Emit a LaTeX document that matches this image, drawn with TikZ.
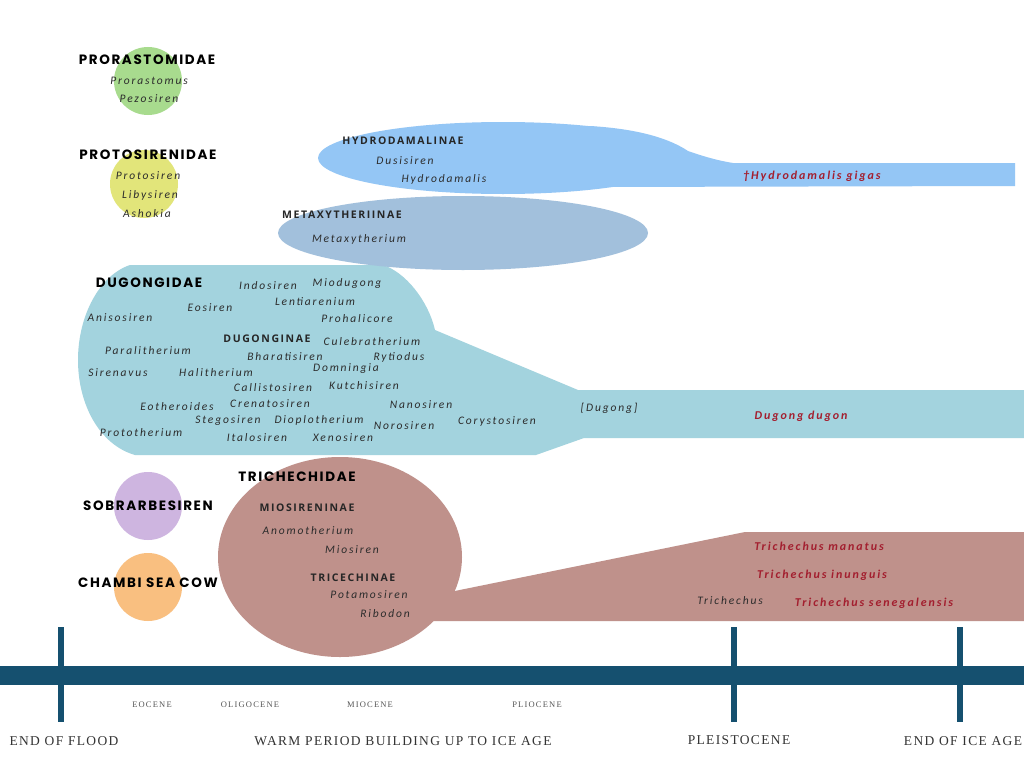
\documentclass[tikz,border=0pt]{standalone}
\usepackage{fontspec}
\newfontfamily\headfont{Poppins}[LetterSpace=12]
\newfontfamily\subfont{Open Sans}[LetterSpace=15]
\newfontfamily\genfont{Carlito}[LetterSpace=16]
\newfontfamily\timefont{Liberation Serif}[LetterSpace=10]
\newfontfamily\erafont{Liberation Serif}[LetterSpace=14]
\definecolor{cgreen}{HTML}{A8DB8E}
\definecolor{cyellow}{HTML}{E2E57A}
\definecolor{cpurple}{HTML}{CEB5E0}
\definecolor{corange}{HTML}{F9BF80}
\definecolor{clblue}{HTML}{94C6F5}
\definecolor{csteel}{HTML}{A2C0DC}
\definecolor{cteal}{HTML}{A3D3DE}
\definecolor{crose}{HTML}{BF918B}
\definecolor{cline}{HTML}{15506F}
\definecolor{cred}{HTML}{A31F2F}
\definecolor{cgray}{HTML}{2C2C2C}
\definecolor{cera}{HTML}{555555}
\begin{document}
\begin{tikzpicture}[x=1pt,y=-1pt,
  fam/.style={font=\headfont\bfseries\fontsize{13.5}{15}\selectfont, text=black, inner sep=0pt},
  sub/.style={font=\subfont\bfseries\fontsize{10.5}{12}\selectfont, text=black!85, inner sep=0pt},
  gen/.style={font=\genfont\itshape\fontsize{11.5}{13}\selectfont, text=cgray, inner sep=0pt},
  spc/.style={font=\genfont\bfseries\itshape\fontsize{12}{14}\selectfont, text=cred, inner sep=0pt},
  era/.style={font=\erafont\fontsize{8.5}{10}\selectfont, text=cera, inner sep=0pt},
  period/.style={font=\timefont\fontsize{13.5}{15}\selectfont, text=black!80, inner sep=0pt}
]
\useasboundingbox[fill=white] (0,0) rectangle (1024,768);

% ---------- shapes ----------
\fill[cgreen]  (148,81)  circle[radius=34];
\fill[cyellow] (144,184) circle[radius=34];
\fill[cpurple] (148,506) circle[radius=34];
\fill[corange] (148,587) circle[radius=34];

% Hydrodamalinae
\fill[clblue] (503,158) ellipse[x radius=185, y radius=36];
\fill[clblue] (590,126) .. controls (640,129) and (670,139) .. (688,151) .. controls (705,157) and (720,161) .. (733,163) -- (1015,163) -- (1015,186) -- (600,187) -- cycle;

% Dugongidae
\fill[cteal] (130,265) -- (383,265) .. controls (405,272) and (428,300) .. (435,330) -- (578,390) -- (1024,390) -- (1024,438) -- (584,438) -- (536,455) -- (135,455) .. controls (100,445) and (78,405) .. (78,360) .. controls (78,315) and (100,275) .. (130,265) -- cycle;

% Metaxytheriinae
\fill[csteel] (463,233) ellipse[x radius=185, y radius=37];

% Trichechidae
\fill[crose] (340,557) ellipse[x radius=122, y radius=100];
\fill[crose] (440,594) -- (745,532) -- (1024,532) -- (1024,621) -- (430,621) -- cycle;

% Timeline
\fill[cline] (0,666) rectangle (1024,685);
\fill[cline] (58,627) rectangle (64,722);
\fill[cline] (731,627) rectangle (737,722);
\fill[cline] (957,627) rectangle (963,722);

% ---------- texts ----------
\node[fam] (prora) at (147,60) {PRORASTOMIDAE};
\node[gen] (g1) at (149,81) {Prorastomus};
\node[gen] (g2) at (149,99) {Pezosiren};

\node[fam] (proto) at (148,155) {PROTOSIRENIDAE};
\node[gen] (g3) at (148,176) {Protosiren};
\node[gen] (g4) at (150,195) {Libysiren};
\node[gen] (g5) at (147,214) {Ashokia};

\node[sub] (hydro) at (403,141) {HYDRODAMALINAE};
\node[gen] (g6) at (405,161) {Dusisiren};
\node[gen] (g7) at (444,179) {Hydrodamalis};
\node[spc] (s1) at (812,176) {†Hydrodamalis gigas};

\node[sub] (metax) at (342,215) {METAXYTHERIINAE};
\node[gen] (g8) at (359,239) {Metaxytherium};

\node[fam] (dugo) at (149,283) {DUGONGIDAE};
\node[gen] (d1) at (268,286) {Indosiren};
\node[gen] (d2) at (347,283) {Miodugong};
\node[gen] (d3) at (315,302) {Lentiarenium};
\node[gen] (d4) at (210,308) {Eosiren};
\node[gen] (d5) at (120,318) {Anisosiren};
\node[gen] (d6) at (357,319) {Prohalicore};
\node[sub] (dugi) at (267,339) {DUGONGINAE};
\node[gen] (d7) at (372,342) {Culebratherium};
\node[gen] (d8) at (148,351) {Paralitherium};
\node[gen] (d9) at (285,357) {Bharatisiren};
\node[gen] (d10) at (399,357) {Rytiodus};
\node[gen] (d11) at (118,373) {Sirenavus};
\node[gen] (d12) at (216,373) {Halitherium};
\node[gen] (d13) at (346,369) {Domningia};
\node[gen] (d14) at (273,388) {Callistosiren};
\node[gen] (d15) at (364,386) {Kutchisiren};
\node[gen] (d16) at (177,407) {Eotheroides};
\node[gen] (d17) at (270,404) {Crenatosiren};
\node[gen] (d18) at (421,405) {Nanosiren};
\node[gen] (d19) at (228,421) {Stegosiren};
\node[gen] (d20) at (319,420) {Dioplotherium};
\node[gen] (d21) at (404,426) {Norosiren};
\node[gen] (d22) at (497,421) {Corystosiren};
\node[gen] (d23) at (141,433) {Prototherium};
\node[gen] (d24) at (257,438) {Italosiren};
\node[gen] (d25) at (343,438) {Xenosiren};
\node[gen] (d26) at (609,408) {[Dugong]};
\node[spc] (s2) at (801,416) {Dugong dugon};

\node[fam] (sobr) at (148,506) {SOBRARBESIREN};
\node[fam] (chambi) at (148,583) {CHAMBI SEA COW};

\node[fam] (trich) at (297,477) {TRICHECHIDAE};
\node[sub] (mios) at (307,508) {MIOSIRENINAE};
\node[gen] (t1) at (308,531) {Anomotherium};
\node[gen] (t2) at (352,550) {Miosiren};
\node[sub] (tric) at (353,578) {TRICECHINAE};
\node[gen] (t3) at (369,595) {Potamosiren};
\node[gen] (t4) at (385,614) {Ribodon};
\node[spc] (s3) at (819,546) {Trichechus manatus};
\node[spc] (s4) at (822,575) {Trichechus inunguis};
\node[gen] (t5) at (730,601) {Trichechus};
\node[spc] (s5) at (874,603) {Trichechus senegalensis};

\node[era] (e1) at (152,705) {EOCENE};
\node[era] (e2) at (250,705) {OLIGOCENE};
\node[era] (e3) at (370,705) {MIOCENE};
\node[era] (e4) at (537,705) {PLIOCENE};

\node[period] (p1) at (64,741) {END OF FLOOD};
\node[period] (p2) at (403,741) {WARM PERIOD BUILDING UP TO ICE AGE};
\node[period] (p3) at (739,740) {PLEISTOCENE};
\node[period] (p4) at (963,741) {END OF ICE AGE};
\end{tikzpicture}
\end{document}
